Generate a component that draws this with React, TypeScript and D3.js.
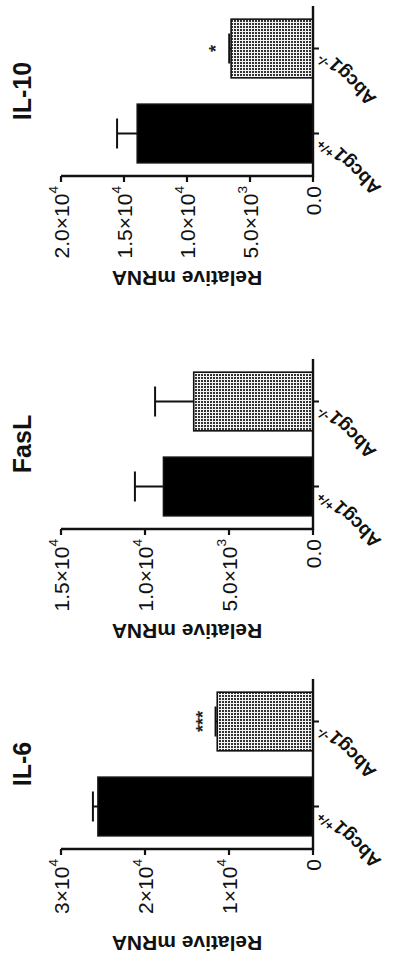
import React from 'react';
import * as d3 from 'd3';

// ---- data ----
const categories = ['Abcg1+/+', 'Abcg1-/-'];
const catBase = ['Abcg1', 'Abcg1'];
const catSup = ['+/+', '-/-'];

const panelTitles = ['IL-6', 'FasL', 'IL-10'];

const il6Means = [25600, 11400];
const il6Sems = [600, 200];
const il6Sig = ['', '***'];
const il6Ticks = [0, 10000, 20000, 30000];
const il6TickLabels = ['0', '1×10^4', '2×10^4', '3×10^4'];

const fasLMeans = [8900, 7100];
const fasLSems = [1700, 2300];
const fasLSig = ['', ''];
const fasLTicks = [0, 5000, 10000, 15000];
const fasLTickLabels = ['0.0', '5.0×10^3', '1.0×10^4', '1.5×10^4'];

const il10Means = [13950, 6500];
const il10Sems = [1600, 150];
const il10Sig = ['', '*'];
const il10Ticks = [0, 5000, 10000, 15000, 20000];
const il10TickLabels = ['0.0', '5.0×10^3', '1.0×10^4', '1.5×10^4', '2.0×10^4'];

const yAxisTitle = 'Relative mRNA';

// ---- layout (unrotated figure coordinates: 961 wide x 397 tall) ----
const FIG_W = 961;
const FIG_H = 397;
const panelX0 = [112, 432, 785];
const panelTitleOffset = [94, 102, 102];
const AXIS_LEN = 170;
const Y_BOTTOM = 313;
const Y_TOP = 61;
const FONT = "'Liberation Sans', Arial, Helvetica, sans-serif";

function Label({ text, size, x, y, anchor, weight }: any) {
  const parts = text.split('^');
  return (
    <text x={x} y={y} textAnchor={anchor} dominantBaseline="central" fontSize={size} fontFamily={FONT} fontWeight={weight || 'normal'} fill="#111">
      {parts[0]}
      {parts[1] ? (
        <tspan dy={-size * 0.38} fontSize={size * 0.65}>{parts[1]}</tspan>
      ) : null}
    </text>
  );
}

function Panel({ idx, means, sems, sig, ticks, tickLabels }: any) {
  const x0 = panelX0[idx];
  const x = d3
    .scaleBand<string>()
    .domain(categories)
    .range([x0, x0 + AXIS_LEN])
    .paddingInner(0.31)
    .paddingOuter(0.155);
  const y = d3.scaleLinear().domain([0, ticks[ticks.length - 1]]).range([Y_BOTTOM, Y_TOP]);
  const bw = x.bandwidth();
  const center = x0 + AXIS_LEN / 2;

  return (
    <g>
      {/* bars */}
      {categories.map((c, i) => {
        const cx = (x(c) as number) + bw / 2;
        const top = y(means[i]);
        const errTop = y(means[i] + sems[i]);
        return (
          <g key={c}>
            <rect
              x={x(c)}
              y={top}
              width={bw}
              height={Y_BOTTOM - top}
              fill={i === 0 ? '#000' : 'url(#dots)'}
              stroke="#111"
              strokeWidth={1.6}
            />
            <line x1={cx} x2={cx} y1={top} y2={errTop} stroke="#111" strokeWidth={2} />
            <line x1={cx - 15} x2={cx + 15} y1={errTop} y2={errTop} stroke="#111" strokeWidth={2} />
            {sig[i] ? (
              <text x={cx} y={errTop - 7} textAnchor="middle" fontSize={18} fontWeight="bold" fontFamily={FONT} fill="#222">
                {sig[i]}
              </text>
            ) : null}
          </g>
        );
      })}

      {/* value axis */}
      <line x1={x0} x2={x0} y1={Y_BOTTOM + 1} y2={Y_TOP} stroke="#111" strokeWidth={2.4} />
      {ticks.map((t: number, i: number) => (
        <g key={t}>
          <line x1={x0 - 6} x2={x0} y1={y(t)} y2={y(t)} stroke="#111" strokeWidth={2.2} />
          <Label text={tickLabels[i]} size={21} x={x0 - 10} y={y(t)} anchor="end" />
        </g>
      ))}

      {/* category axis */}
      <line x1={x0 - 1} x2={x0 + AXIS_LEN} y1={Y_BOTTOM} y2={Y_BOTTOM} stroke="#111" strokeWidth={2.4} />
      {categories.map((c, i) => {
        const cx = (x(c) as number) + bw / 2;
        return (
          <g key={c}>
            <line x1={cx} x2={cx} y1={Y_BOTTOM} y2={Y_BOTTOM + 6} stroke="#111" strokeWidth={2} />
            <text
              transform={`translate(${cx - 4},${Y_BOTTOM + 10}) rotate(-45)`}
              textAnchor="end"
              dominantBaseline="central"
              fontSize={19}
              fontWeight="bold"
              fontFamily={FONT}
              fill="#111"
            >
              {catBase[i]}
              <tspan dy={-7} fontSize={13}>{catSup[i]}</tspan>
            </text>
          </g>
        );
      })}

      {/* axis title */}
      <text
        transform={`translate(${x0 - panelTitleOffset[idx]},${(Y_TOP + Y_BOTTOM) / 2}) rotate(-90)`}
        textAnchor="middle"
        dominantBaseline="central"
        fontSize={21}
        fontWeight="bold"
        fontFamily={FONT}
        fill="#111"
      >
        {yAxisTitle}
      </text>

      {/* panel title */}
      <text x={center} y={22} textAnchor="middle" dominantBaseline="central" fontSize={25} fontWeight="bold" fontFamily={FONT} fill="#111">
        {panelTitles[idx]}
      </text>
    </g>
  );
}

export default function App() {
  return (
    <svg
      width={FIG_H}
      height={FIG_W}
      style={{ position: 'absolute', left: 0, top: 0, background: '#fff' }}
    >
      <defs>
        <pattern id="dots" width={3} height={3} patternUnits="userSpaceOnUse">
          <rect width={3} height={3} fill="#f4f4f4" />
          <rect width={2} height={2} fill="#333" />
        </pattern>
      </defs>
      <rect width={FIG_H} height={FIG_W} fill="#fff" />
      <g transform={`translate(0,${FIG_W}) rotate(-90)`}>
        <Panel idx={0} means={il6Means} sems={il6Sems} sig={il6Sig} ticks={il6Ticks} tickLabels={il6TickLabels} />
        <Panel idx={1} means={fasLMeans} sems={fasLSems} sig={fasLSig} ticks={fasLTicks} tickLabels={fasLTickLabels} />
        <Panel idx={2} means={il10Means} sems={il10Sems} sig={il10Sig} ticks={il10Ticks} tickLabels={il10TickLabels} />
      </g>
    </svg>
  );
}
